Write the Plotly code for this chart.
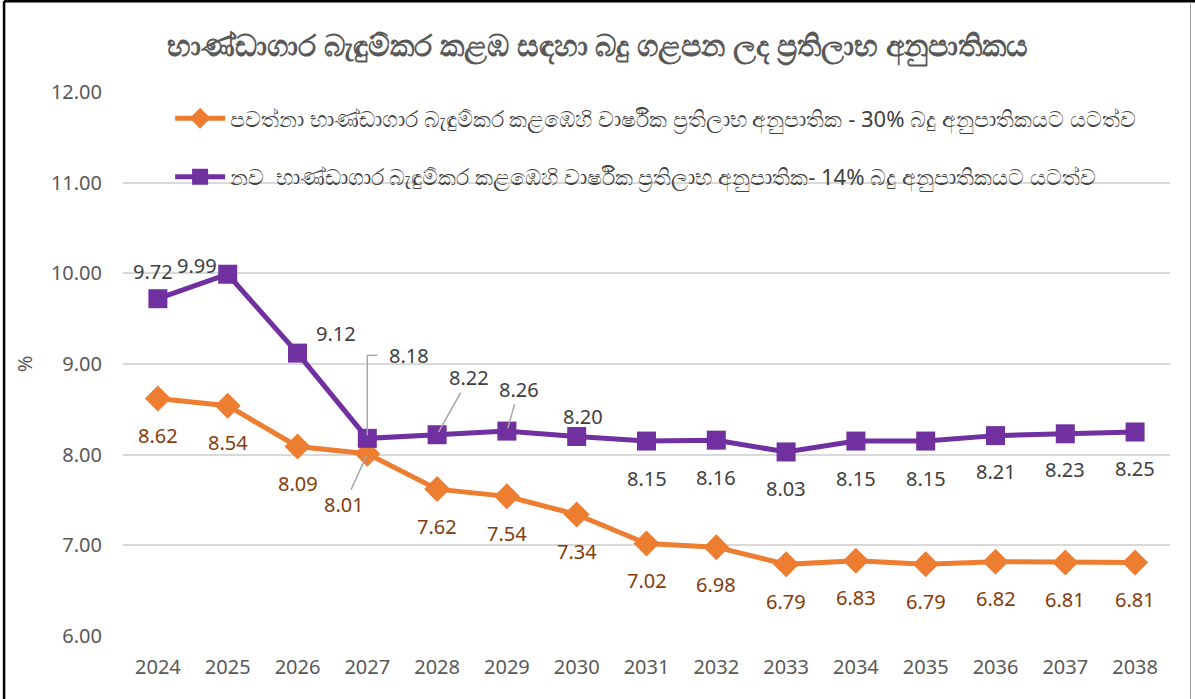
import plotly.graph_objects as go

years = [str(y) for y in range(2024, 2039)]
current_vals = [8.62, 8.54, 8.09, 8.01, 7.62, 7.54, 7.34, 7.02, 6.98, 6.79, 6.83, 6.79, 6.82, 6.81, 6.81]
new_vals = [9.72, 9.99, 9.12, 8.18, 8.22, 8.26, 8.20, 8.15, 8.16, 8.03, 8.15, 8.15, 8.21, 8.23, 8.25]

title_text = "භාණ්ඩාගාර බැඳුම්කර කළඹ සඳහා බදු ගළපන ලද ප්‍රතිලාභ අනුපාතිකය"
name_current = "පවත්නා භාණ්ඩාගාර බැඳුම්කර කළඹෙහි වාර්ෂික ප්‍රතිලාභ අනුපාතික - 30% බදු අනුපාතිකයට යටත්ව"
name_new = "නව  භාණ්ඩාගාර බැඳුම්කර කළඹෙහි වාර්ෂික ප්‍රතිලාභ අනුපාතික- 14% බදු අනුපාතිකයට යටත්ව"

ORANGE = "#ED7D31"
PURPLE = "#7030A0"
ORANGE_LBL = "#843C0C"
PURPLE_LBL = "#404040"
FONT = "Noto Sans, DejaVu Sans, sans-serif"
LBL_SIZE = 20

fig = go.Figure()
fig.add_trace(go.Scatter(
    x=years, y=current_vals, name=name_current, mode="lines+markers",
    line=dict(color=ORANGE, width=5),
    marker=dict(symbol="diamond", size=20, color=ORANGE),
    legendgroup="a",
))
fig.add_trace(go.Scatter(
    x=years, y=new_vals, name=name_new, mode="lines+markers",
    line=dict(color=PURPLE, width=5),
    marker=dict(symbol="square", size=19, color=PURPLE),
    legendgroup="b",
))

# label offsets (pixels): (xshift, yshift up)
new_offsets = [(-5, 27), (-31, 9), (38, 20), None, None, None, (6, 20),
               (0, -37), (0, -37), (0, -37), (0, -37), (0, -37), (0, -36), (0, -36), (0, -36)]
cur_offsets = [(0, -37)] * 15
cur_offsets[3] = None

ann = []
for i in range(len(years)):
    off = new_offsets[i]
    if off is not None:
        ann.append(dict(x=i, y=new_vals[i], xref="x", yref="y", text="%.2f" % new_vals[i],
                        showarrow=False, xshift=off[0], yshift=off[1],
                        font=dict(size=LBL_SIZE, color=PURPLE_LBL)))
    off = cur_offsets[i]
    if off is not None:
        ann.append(dict(x=i, y=current_vals[i], xref="x", yref="y", text="%.2f" % current_vals[i],
                        showarrow=False, xshift=off[0], yshift=off[1],
                        font=dict(size=LBL_SIZE, color=ORANGE_LBL)))

LEADER = "#A6A6A6"
for idx, ax, ay in [(4, 32, -57), (5, 12, -42)]:
    ann.append(dict(x=idx, y=new_vals[idx], xref="x", yref="y", text="%.2f" % new_vals[idx],
                    showarrow=True, ax=ax, ay=ay, arrowhead=0, arrowwidth=1.5,
                    arrowcolor=LEADER, standoff=3, font=dict(size=LBL_SIZE, color=PURPLE_LBL)))
ann.append(dict(x=3, y=current_vals[3], xref="x", yref="y", text="%.2f" % current_vals[3],
                showarrow=True, ax=-23, ay=51, arrowhead=0, arrowwidth=1.5,
                arrowcolor=LEADER, standoff=2, font=dict(size=LBL_SIZE, color=ORANGE_LBL)))
ann.append(dict(x=3, y=new_vals[3], xref="x", yref="y", text="%.2f" % new_vals[3],
                showarrow=False, xshift=42, yshift=83, font=dict(size=LBL_SIZE, color=PURPLE_LBL)))

# elbow leader for 2027 label (pixel scale: 90.67 px per unit y, 69.8 px per category)
PX_Y = 90.67
PX_X = 69.8
top_y = new_vals[3] + 83 / PX_Y
shapes = [
    dict(type="line", xref="x", yref="y", x0=3, x1=3, y0=new_vals[3] + 3 / PX_Y, y1=top_y,
         line=dict(color=LEADER, width=1.5)),
    dict(type="line", xref="x", yref="y", x0=3, x1=3 + 10 / PX_X, y0=top_y, y1=top_y,
         line=dict(color=LEADER, width=1.5)),
    # outer frame
    dict(type="line", xref="paper", yref="paper", x0=-0.1136, x1=-0.1136, y0=-0.2, y1=1.167,
         line=dict(color="#000000", width=2.5)),
    dict(type="line", xref="paper", yref="paper", x0=-0.1136, x1=1.03, y0=1.167, y1=1.167,
         line=dict(color="#000000", width=2.5)),
    dict(type="line", xref="paper", yref="paper", x0=1.0196, x1=1.0196, y0=-0.2, y1=1.163,
         line=dict(color="#9A9A9A", width=1)),
]

fig.update_layout(
    width=1195, height=699,
    margin=dict(l=123, r=25, t=92, b=63, autoexpand=False),
    paper_bgcolor="white", plot_bgcolor="white",
    title=dict(text=title_text, x=0.5, xanchor="center", y=0.935, yanchor="middle",
               font=dict(size=30, color="#595959", family=FONT, weight="bold")),
    font=dict(family=FONT, color="#595959"),
    showlegend=True,
    legend=dict(x=0.045, xanchor="left", y=0.99, yanchor="top", bgcolor="rgba(0,0,0,0)",
                font=dict(size=22, color="#404040", family=FONT), tracegroupgap=27,
                itemwidth=50),
    shapes=shapes,
    xaxis=dict(type="category", range=[-0.5, 14.5], showgrid=False, showline=False,
               ticks="", tickfont=dict(size=20, color="#595959", family=FONT), zeroline=False,
               ticklabelstandoff=17),
    yaxis=dict(range=[6, 12], dtick=1, tickformat=".2f", showgrid=True, gridcolor="#D9D9D9",
               gridwidth=1.5, zeroline=False, showline=False, ticks="",
               tickfont=dict(size=20, color="#595959", family=FONT), ticklabelstandoff=20,
               title=dict(text="%", font=dict(size=20, color="#595959", family=FONT), standoff=12)),
)
for a in ann:
    fig.add_annotation(**a)

fig.write_html("out.html", config={"displayModeBar": False},
               post_script="document.body.style.margin='0';")
